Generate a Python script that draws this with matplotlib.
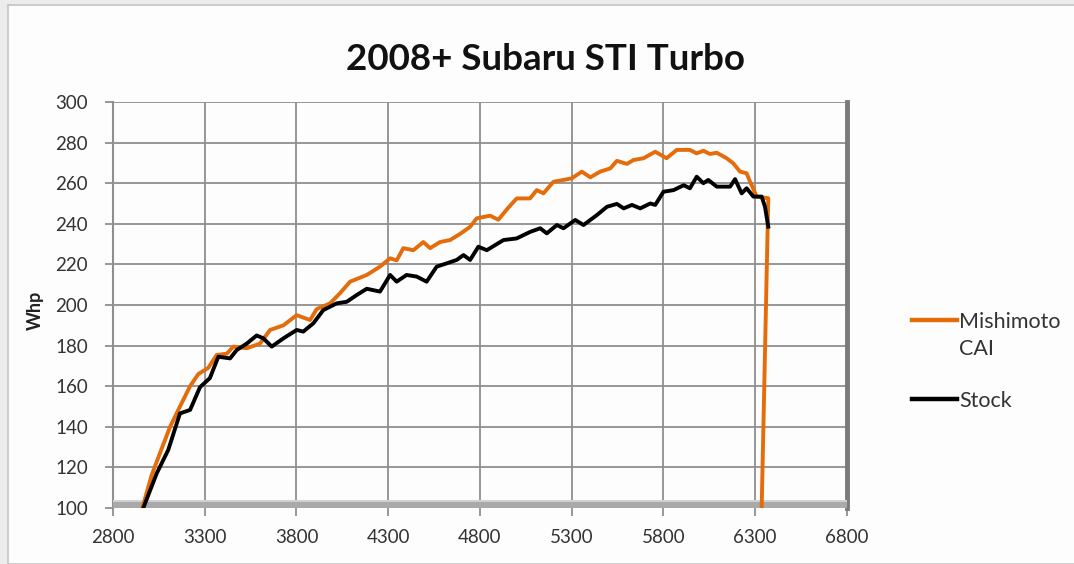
import matplotlib
matplotlib.use("Agg")
import matplotlib.pyplot as plt
from matplotlib.lines import Line2D
from matplotlib.patches import Rectangle

plt.rcParams['font.family'] = ['Lato', 'DejaVu Sans']

# dyno pulls (rpm, wheel hp)
mishimoto_rpm = [2960, 3010, 3060, 3111, 3165, 3220, 3265, 3319, 3365, 3420,
                 3456, 3529, 3601, 3656, 3729, 3801, 3874, 3910, 3983, 4037,
                 4092, 4183, 4255, 4310, 4346, 4382, 4437, 4491, 4528, 4582,
                 4637, 4691, 4746, 4782, 4855, 4900, 4950, 5000, 5073, 5109, 5146,
                 5200, 5255, 5300, 5355, 5401, 5455, 5510, 5546, 5601, 5636,
                 5691, 5755, 5817, 5872, 5944, 5981, 6017, 6053, 6090, 6144,
                 6180, 6217, 6253, 6272, 6308, 6371, 6335]
mishimoto_whp = [100, 116, 128, 140, 150, 160, 166, 169, 175.4, 176,
                 179.5, 178.7, 181, 187.7, 190, 195, 192.6, 198, 200.8, 205.8,
                 211.5, 214.8, 218.9, 223, 222, 228, 227, 231, 228, 231,
                 232, 235, 238.5, 242.7, 244, 242, 247.5, 252.5, 252.5, 256.6, 255,
                 260.7, 261.6, 262.4, 265.7, 262.9, 265.7, 267.3, 271, 269.5, 271.4,
                 272.3, 275.5, 272.3, 276.4, 276.4, 274.7, 276, 274.4, 275, 272.3,
                 269.8, 265.7, 264.9, 260.7, 253.4, 252.6, 100]

stock_rpm = [2965, 3038, 3101, 3165, 3220, 3274, 3328, 3374, 3438, 3474,
             3529, 3583, 3619, 3665, 3729, 3801, 3837, 3892, 3946, 4019,
             4074, 4128, 4183, 4255, 4310, 4346, 4400, 4455, 4509, 4564,
             4618, 4673, 4710, 4746, 4791, 4837, 4928, 5000, 5073, 5128,
             5164, 5219, 5255, 5319, 5364, 5437, 5492, 5546, 5583, 5628,
             5673, 5728, 5755, 5800, 5855, 5910, 5944, 5981, 6017, 6044,
             6090, 6163, 6190, 6226, 6253, 6290, 6335, 6353, 6371]
stock_whp = [100, 117, 128.6, 146.6, 148.3, 159.5, 164, 174.5, 173.7, 177.8,
             181, 185, 183.6, 179.5, 183.6, 187.7, 186.9, 191, 197.5, 200.8,
             201.6, 204.9, 208, 206.6, 214.8, 211.5, 214.8, 214, 211.5, 218.9,
             220.5, 222.2, 224.6, 222.2, 228.7, 227, 232, 232.8, 236, 237.8,
             235.3, 239.4, 237.8, 241.9, 239.4, 244.3, 248.4, 249.8, 247.6, 249.3,
             247.6, 250, 249.3, 255.8, 256.6, 259, 257.5, 263.2, 260, 261.6,
             258.3, 258.3, 262, 255, 257.5, 253.4, 253.4, 248.4, 238.6]

x_ticks = list(range(2800, 6801, 500))
y_ticks = list(range(100, 301, 20))

orange = '#E46C0A'
grid_col = '#8f8f8f'

W, H = 1074, 564
fig = plt.figure(figsize=(W / 100, H / 100), dpi=100)
fig.patch.set_facecolor('#ececec')
# chart area (white box with thin grey border), kept behind the axes
fig.patches.append(Rectangle((8 / W, 0), 1, 1 - 5 / H, transform=fig.transFigure,
                             facecolor='#fdfdfd', edgecolor='#c4c4c4', lw=1.2, zorder=-10))

ax = fig.add_axes([113 / W, (H - 508) / H, (847 - 113) / W, (508 - 102) / H])
ax.set_facecolor('#fdfdfd')

ax.plot(mishimoto_rpm, mishimoto_whp, color=orange, lw=2.8, solid_joinstyle='round', zorder=4)
ax.plot(stock_rpm, stock_whp, color='black', lw=2.8, solid_joinstyle='round', zorder=5)

ax.set_xlim(2800, 6800)
ax.set_ylim(100, 300)
ax.set_xticks(x_ticks)
ax.set_yticks(y_ticks)
ax.grid(True, color=grid_col, lw=1.3)
ax.set_axisbelow(True)

for s in ['top', 'bottom']:
    ax.spines[s].set_visible(False)
ax.spines['left'].set_color(grid_col)
ax.spines['left'].set_linewidth(1.5)
ax.spines['right'].set_color('#7a7a7a')
ax.spines['right'].set_linewidth(3.5)

# 3d-ish floor of the Excel chart
ax.add_patch(Rectangle((0, 0), 1, 0.016, transform=ax.transAxes,
                       facecolor='#a9a9a9', edgecolor='none', zorder=3))
ax.add_patch(Rectangle((0, 0.016), 1, 0.004, transform=ax.transAxes,
                       facecolor='#d0d0d0', edgecolor='none', zorder=3))

ax.tick_params(axis='both', colors=grid_col, labelcolor='#333333', labelsize=13.5,
               width=1.3, length=6)
ax.tick_params(axis='x', pad=9)
ax.tick_params(axis='y', pad=12)

fig.text(546 / W, 1 - 60 / H, '2008+ Subaru STI Turbo', ha='center', va='center',
         fontsize=26.5, fontweight='bold', color='#111111')
fig.text(35 / W, 1 - 310 / H, 'Whp', ha='center', va='center', rotation=90,
         fontsize=13, fontweight='bold', color='#222222')

# legend drawn by hand so the line sits on the first text row
fig.add_artist(Line2D([912 / W, 957 / W], [1 - 320 / H] * 2, color=orange, lw=3.2))
fig.add_artist(Line2D([912 / W, 957 / W], [1 - 399 / H] * 2, color='black', lw=3.2))
fig.text(959 / W, 1 - 322 / H, 'Mishimoto', ha='left', va='center', fontsize=15.5, color='#333333')
fig.text(959 / W, 1 - 349 / H, 'CAI', ha='left', va='center', fontsize=15.5, color='#333333')
fig.text(959 / W, 1 - 401 / H, 'Stock', ha='left', va='center', fontsize=15.5, color='#333333')

fig.savefig('out.png', dpi=100, facecolor=fig.get_facecolor())
